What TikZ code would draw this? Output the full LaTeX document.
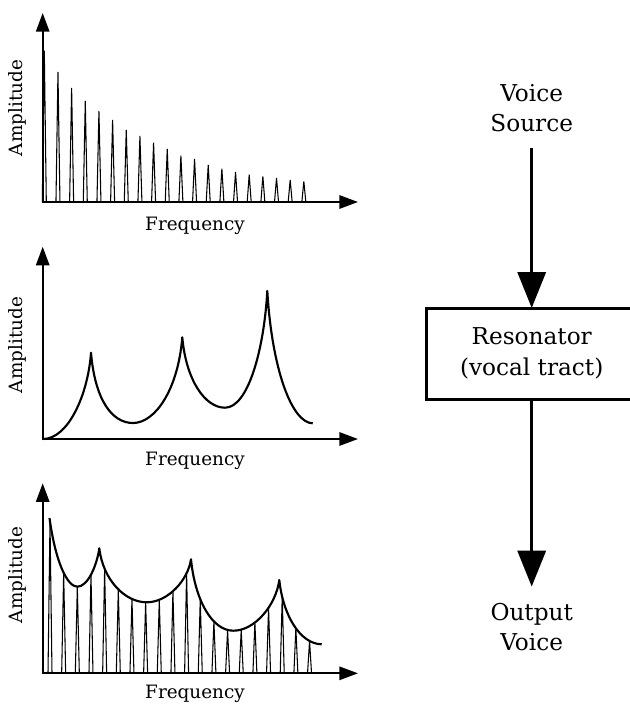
\documentclass[tikz,border=0pt]{standalone}
\usepackage{fontspec}
\setmainfont{DejaVu Serif}
\usetikzlibrary{arrows.meta,intersections}
\begin{document}
\begin{tikzpicture}[x=0.75pt,y=-0.75pt,
  axis/.style={line width=1.5pt,{Triangle[length=14pt,width=10pt]}-{Triangle[length=14pt,width=10pt]}},
  spike/.style={line width=0.8pt,line join=miter},
  env/.style={line width=1.6pt,line join=round},
  lbl/.style={font=\fontsize{13.8}{16}\selectfont,inner sep=0pt},
  flow/.style={line width=2.6pt,-{Triangle[length=27pt,width=21pt]}},
  txt/.style={font=\fontsize{17.4}{23}\selectfont,align=center,inner sep=0pt}]
\useasboundingbox (0,0) rectangle (630,704);
% ---------- top chart: source spectrum
\foreach \t [count=\i from 0] in {50.7,72,88,101,111,120,130,136,142.7,149,155.7,159,165,168.7,172,174.7,176.3,178,180,181.3}{
  \pgfmathsetmacro\xs{44.3+13.66*\i}
  \draw[spike] (\xs-2,202) -- (\xs,\t) -- (\xs+2,202);
}
\coordinate (y1) at (42.7,13);
\coordinate (o1) at (42.7,202);
\coordinate (x1) at (358,202);
\draw[axis] (y1) -- (o1) -- (x1);
\node[lbl] (f1) at (195,226) {Frequency};
\node[lbl,rotate=90] (a1) at (17,108) {Amplitude};
% ---------- middle chart: resonator
\coordinate (y2) at (42.7,246.7);
\coordinate (o2) at (42.7,439);
\coordinate (x2) at (358,439);
\draw[env] (43,439) .. controls (68,439) and (88,395) .. (91,352.7)
  .. controls (95,400) and (112,423) .. (133,423)
  .. controls (155,423) and (178,390) .. (182.3,337.3)
  .. controls (186,380) and (205,407.7) .. (225,407.7)
  .. controls (248,407.7) and (264,350) .. (267.3,291)
  .. controls (272,370) and (292,423) .. (312.7,423.3);
\draw[axis] (y2) -- (o2) -- (x2);
\node[lbl] (f2) at (195,461) {Frequency};
\node[lbl,rotate=90] (a2) at (17,345) {Amplitude};
% ---------- bottom chart: output
\draw[env,name path global=envp] (49.5,518) .. controls (56,565) and (68,586.7) .. (77.3,586.7)
  .. controls (88,586.7) and (97,565) .. (99.3,548.3)
  .. controls (103,580) and (125,602.3) .. (146.7,602.3)
  .. controls (168,602.3) and (188,580) .. (191,559.3)
  .. controls (195,600) and (212,630.7) .. (233.3,630.7)
  .. controls (255,630.7) and (276,605) .. (279.3,580)
  .. controls (283,615) and (300,644) .. (321.7,644.3);
\foreach \i in {0,...,19}{
  \pgfmathsetmacro\xs{50+13.66*\i}
  \path[name path=vl] (\xs,700) -- (\xs,470);
  \path[name intersections={of=envp and vl,by=tp}];
  \draw[spike] (\xs-2,673.3) -- (tp) -- (\xs+2,673.3);
}
\coordinate (y3) at (42.7,483.3);
\coordinate (o3) at (42.7,673.3);
\coordinate (x3) at (358,673.3);
\draw[axis] (y3) -- (o3) -- (x3);
\node[lbl] (f3) at (195,694) {Frequency};
\node[lbl,rotate=90] (a3) at (17,575) {Amplitude};
% ---------- right: flow
\node[txt] (src) at (531.7,108) {Voice\\Source};
\node[txt,draw,line width=2.25pt,outer sep=0pt,minimum width=158pt,minimum height=68.25pt] (res) at (531.7,353.5) {Resonator\\(vocal tract)};
\node[txt] (out) at (531.7,627) {Output\\Voice};
\draw[flow,shorten <=12pt] (src) -- (res);
\draw[flow,shorten >=12pt] (res) -- (out);
\end{tikzpicture}
\end{document}
